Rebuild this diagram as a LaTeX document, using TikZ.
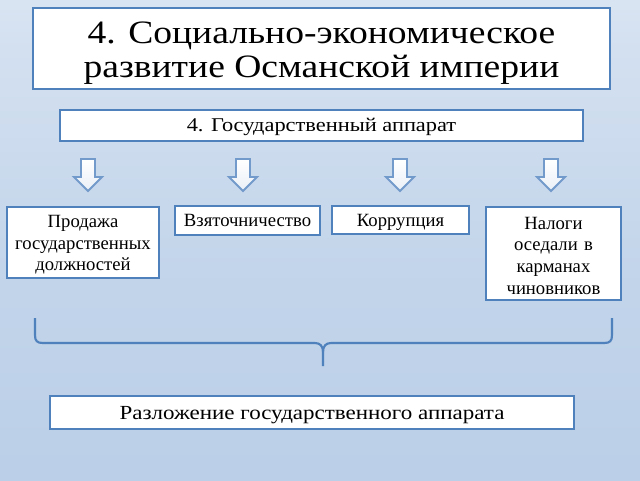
\documentclass[tikz,border=0pt]{standalone}
\usepackage{fontspec}
\setmainfont{Liberation Serif}
\newfontfamily\widefont{Liberation Serif}[FakeStretch=1.15]
\usepackage{tikz}
\definecolor{frame}{HTML}{4F81BD}
\definecolor{bgtop}{HTML}{F8FAFD}
\definecolor{bgmid}{HTML}{D3E0F0}
\definecolor{bglow}{HTML}{B6CCE6}
\definecolor{bgend}{HTML}{C9D9EC}
\pgfdeclareverticalshading{slidebg}{100bp}{color(0bp)=(bgend); color(12bp)=(bglow); color(45bp)=(bglow!60!bgmid); color(70bp)=(bgmid); color(100bp)=(bgtop)}

\begin{document}
\begin{tikzpicture}[x=0.75pt, y=-0.75pt,
    box/.style={draw=frame, line width=2pt, fill=white, inner sep=0pt, align=center},
    oneline/.style={text height=#1, text depth=0pt},
    blockarrow/.style={draw=frame!80, line width=1.4pt, top color=white, bottom color=frame!12}]
    \shade[shading=slidebg] (0,0) rectangle (640,480);
    \useasboundingbox (0,0) rectangle (640,480);
    \node[box, minimum width=432.75pt, minimum height=60.75pt, font=\widefont\fontsize{24.5}{25.5}\selectfont] (title) at (321.5,48.5) {\rule{0pt}{23pt}4. Социально-экономическое\\развитие Османской империи};
    \node[box, oneline=9.7pt, minimum width=392.25pt, minimum height=23.25pt, font=\widefont\fontsize{14.6}{17}\selectfont] (apparat) at (321.5,125.5) {4. Государственный аппарат};
    \foreach \x in {88, 243, 400, 551} { \draw[blockarrow] (\x-7,159) -- (\x+7,159) -- (\x+7,177) -- (\x+14,177) -- (\x,191) -- (\x-14,177) -- (\x-7,177) -- cycle; }
    \node[box, minimum width=114pt, minimum height=53.25pt, text width=110pt, font=\fontsize{14}{16.2}\selectfont] (prodazha) at (83,242.5) {\rule{0pt}{12.5pt}Продажа\\государственных\\должностей};
    \node[box, oneline=9.2pt, minimum width=108.75pt, minimum height=21.75pt, font=\fontsize{14}{16}\selectfont] (vzyatki) at (247.5,220.5) {Взяточничество};
    \node[box, oneline=9.2pt, minimum width=102.75pt, minimum height=21pt, font=\fontsize{14}{16}\selectfont] (korrup) at (400.5,220) {Коррупция};
    \node[box, minimum width=101.25pt, minimum height=69.75pt, text width=98pt, font=\fontsize{14}{16.2}\selectfont] (nalogi) at (553.5,253.5) {\rule{0pt}{12.5pt}Налоги\\оседали в\\карманах\\чиновников};
    \node[box, oneline=9.9pt, minimum width=393pt, minimum height=24.75pt, font=\widefont\fontsize{15}{18}\selectfont] (razlozh) at (312,412.5) {Разложение государственного аппарата};
    % brace
    \coordinate (bl) at (35,318);
    \coordinate (br) at (612,318);
    \coordinate (btip) at (323,366);
    \draw[frame, line width=1.6pt] (bl) -- (35,335) .. controls (35,341) and (37,343) .. (43,343) -- (315,343) .. controls (320,343) and (323,346) .. (323,352) -- (btip);
    \draw[frame, line width=1.6pt] (br) -- (612,335) .. controls (612,341) and (610,343) .. (604,343) -- (331,343) .. controls (326,343) and (323,346) .. (323,352);
\end{tikzpicture}
\end{document}
